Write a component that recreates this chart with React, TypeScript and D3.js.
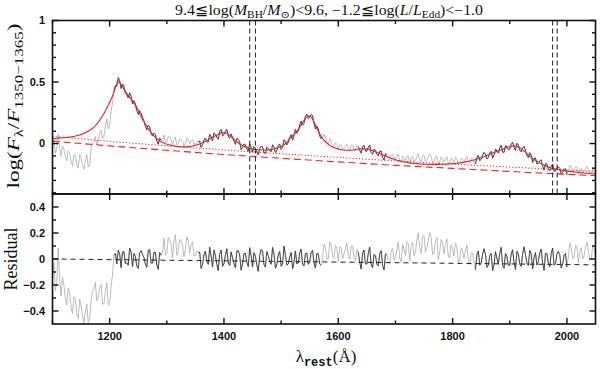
import React from "react";
import * as d3 from "d3";

// ---------- data ----------
const LAMBDA_START = 1100;
const LAMBDA_STEP = 2.5;

// best-fit model, log(F/F_1350-1365), sampled every 2.5 Å from 1100 to 2050
const modelLog = [
  0.040, 0.041, 0.042, 0.043, 0.044, 0.045, 0.046, 0.047, 0.048, 0.049,
  0.050, 0.051, 0.053, 0.054, 0.056, 0.058, 0.061, 0.064, 0.067, 0.070,
  0.074, 0.078, 0.083, 0.088, 0.094, 0.101, 0.108, 0.116, 0.124, 0.134,
  0.145, 0.158, 0.172, 0.188, 0.205, 0.224, 0.244, 0.266, 0.288, 0.311,
  0.335, 0.360, 0.387, 0.418, 0.452, 0.485, 0.508, 0.495, 0.478, 0.461,
  0.443, 0.425, 0.408, 0.392, 0.377, 0.362, 0.347, 0.330, 0.312, 0.292,
  0.270, 0.245, 0.220, 0.198, 0.178, 0.158, 0.140, 0.122, 0.106, 0.090,
  0.076, 0.063, 0.051, 0.040, 0.031, 0.023, 0.016, 0.010, 0.004, -0.001,
  -0.005, -0.009, -0.012, -0.015, -0.018, -0.020, -0.022, -0.024, -0.025, -0.026,
  -0.027, -0.027, -0.027, -0.027, -0.026, -0.025, -0.024, -0.022, -0.020, -0.017,
  -0.014, -0.011, -0.007, -0.003, 0.002, 0.007, 0.012, 0.018, 0.024, 0.030,
  0.037, 0.044, 0.051, 0.058, 0.064, 0.070, 0.076, 0.081, 0.085, 0.088,
  0.089, 0.087, 0.083, 0.075, 0.066, 0.056, 0.045, 0.034, 0.024, 0.015,
  0.006, -0.002, -0.010, -0.016, -0.022, -0.027, -0.031, -0.035, -0.038, -0.041,
  -0.043, -0.045, -0.047, -0.049, -0.050, -0.051, -0.052, -0.053, -0.053, -0.053,
  -0.053, -0.052, -0.051, -0.049, -0.047, -0.044, -0.041, -0.037, -0.033, -0.028,
  -0.023, -0.017, -0.010, 0.000, 0.010, 0.025, 0.040, 0.051, 0.062, 0.075,
  0.088, 0.101, 0.115, 0.132, 0.150, 0.169, 0.188, 0.204, 0.217, 0.223,
  0.224, 0.215, 0.200, 0.176, 0.150, 0.124, 0.100, 0.079, 0.060, 0.043,
  0.028, 0.015, 0.004, -0.006, -0.014, -0.021, -0.028, -0.033, -0.038, -0.042,
  -0.045, -0.048, -0.050, -0.052, -0.053, -0.054, -0.054, -0.054, -0.054, -0.054,
  -0.053, -0.052, -0.050, -0.048, -0.046, -0.044, -0.043, -0.043, -0.043, -0.044,
  -0.045, -0.047, -0.050, -0.053, -0.057, -0.061, -0.066, -0.071, -0.076, -0.081,
  -0.086, -0.091, -0.096, -0.100, -0.105, -0.110, -0.114, -0.119, -0.123, -0.127,
  -0.131, -0.135, -0.138, -0.141, -0.144, -0.147, -0.149, -0.151, -0.153, -0.155,
  -0.157, -0.159, -0.160, -0.161, -0.162, -0.163, -0.164, -0.165, -0.166, -0.167,
  -0.167, -0.168, -0.168, -0.169, -0.169, -0.169, -0.169, -0.169, -0.169, -0.169,
  -0.169, -0.169, -0.168, -0.168, -0.168, -0.168, -0.167, -0.166, -0.165, -0.164,
  -0.163, -0.162, -0.161, -0.160, -0.158, -0.157, -0.155, -0.153, -0.151, -0.149,
  -0.147, -0.145, -0.142, -0.139, -0.136, -0.133, -0.129, -0.126, -0.122, -0.118,
  -0.114, -0.110, -0.105, -0.101, -0.096, -0.092, -0.087, -0.082, -0.077, -0.073,
  -0.068, -0.064, -0.059, -0.055, -0.050, -0.046, -0.041, -0.036, -0.032, -0.028,
  -0.025, -0.022, -0.020, -0.019, -0.020, -0.023, -0.028, -0.035, -0.043, -0.052,
  -0.062, -0.072, -0.082, -0.092, -0.102, -0.111, -0.120, -0.129, -0.137, -0.145,
  -0.152, -0.159, -0.165, -0.171, -0.176, -0.181, -0.186, -0.191, -0.195, -0.199,
  -0.202, -0.205, -0.208, -0.211, -0.213, -0.215, -0.217, -0.219, -0.221, -0.223,
  -0.224, -0.226, -0.227, -0.228, -0.229, -0.231, -0.232, -0.233, -0.234, -0.236,
  -0.237, -0.238, -0.239, -0.240, -0.241, -0.242, -0.243, -0.244, -0.245, -0.246,
  -0.247,
];

// observed composite spectrum, same grid
const specLog = [
  -0.020, 0.030, -0.080, -0.040, 0.080, -0.030, -0.100, -0.020, -0.050, -0.110,
  -0.140, -0.060, -0.080, -0.150, -0.180, -0.090, -0.100, -0.170, -0.200, -0.090,
  -0.120, -0.170, -0.210, -0.140, -0.090, -0.190, -0.160, -0.050, 0.000, 0.020,
  0.060, -0.010, 0.020, 0.080, 0.110, 0.040, 0.060, 0.140, 0.200, 0.120,
  0.150, 0.260, 0.330, 0.430, 0.470, 0.468, 0.536, 0.512, 0.448, 0.484,
  0.467, 0.409, 0.396, 0.371, 0.412, 0.385, 0.321, 0.348, 0.320, 0.268,
  0.237, 0.266, 0.247, 0.212, 0.184, 0.141, 0.111, 0.150, 0.137, 0.076,
  0.062, 0.085, 0.073, 0.019, -0.005, 0.044, 0.028, 0.030, 0.069, 0.011,
  0.012, 0.058, 0.049, 0.031, -0.014, 0.036, 0.053, -0.012, 0.001, 0.035,
  0.030, 0.017, -0.019, 0.004, 0.043, 0.032, -0.004, 0.025, 0.034, -0.006,
  -0.003, 0.015, 0.014, 0.019, -0.031, -0.012, 0.027, 0.044, 0.016, 0.012,
  0.075, 0.053, 0.024, 0.087, 0.076, 0.051, 0.035, 0.097, 0.114, 0.063,
  0.073, 0.099, 0.116, 0.061, 0.044, 0.079, 0.049, 0.018, -0.006, 0.041,
  0.033, 0.011, -0.049, -0.033, -0.004, -0.009, -0.042, -0.061, -0.002, -0.030,
  -0.071, -0.024, -0.038, -0.070, -0.093, -0.040, -0.021, -0.027, -0.072, -0.081,
  -0.029, -0.041, -0.057, -0.067, -0.010, -0.028, -0.073, -0.055, -0.019, -0.003,
  -0.048, -0.034, 0.031, 0.014, -0.011, 0.008, 0.048, 0.072, 0.028, 0.063,
  0.114, 0.084, 0.102, 0.151, 0.182, 0.151, 0.164, 0.222, 0.236, 0.205,
  0.214, 0.236, 0.228, 0.163, 0.119, 0.143, 0.117, 0.062, 0.038, 0.048,
  0.075, 0.052, 0.006, -0.005, 0.039, 0.022, -0.020, -0.031, 0.006, -0.008,
  -0.054, -0.009, -0.015, -0.051, -0.037, -0.021, -0.003, -0.040, -0.055, -0.012,
  -0.013, -0.047, -0.056, -0.016, -0.024, -0.055, -0.078, -0.025, -0.014, -0.061,
  -0.062, -0.028, -0.012, -0.071, -0.087, -0.046, -0.055, -0.089, -0.100, -0.064,
  -0.059, -0.112, -0.134, -0.084, -0.089, -0.118, -0.130, -0.093, -0.089, -0.131,
  -0.127, -0.104, -0.085, -0.139, -0.153, -0.101, -0.116, -0.140, -0.099, -0.105,
  -0.163, -0.118, -0.107, -0.150, -0.139, -0.104, -0.084, -0.129, -0.147, -0.097,
  -0.094, -0.145, -0.132, -0.110, -0.088, -0.103, -0.155, -0.146, -0.114, -0.102,
  -0.171, -0.145, -0.107, -0.118, -0.151, -0.122, -0.105, -0.157, -0.162, -0.119,
  -0.131, -0.152, -0.111, -0.120, -0.172, -0.158, -0.119, -0.126, -0.149, -0.121,
  -0.102, -0.154, -0.162, -0.118, -0.117, -0.146, -0.167, -0.112, -0.096, -0.139,
  -0.128, -0.094, -0.072, -0.086, -0.125, -0.113, -0.076, -0.064, -0.118, -0.092,
  -0.044, -0.061, -0.077, -0.036, -0.013, -0.068, -0.073, -0.018, -0.023, -0.049,
  -0.047, -0.006, 0.010, -0.032, -0.056, 0.002, -0.011, -0.053, -0.068, -0.037,
  -0.023, -0.057, -0.095, -0.114, -0.074, -0.094, -0.154, -0.124, -0.116, -0.166,
  -0.160, -0.139, -0.133, -0.184, -0.216, -0.163, -0.168, -0.206, -0.222, -0.181,
  -0.167, -0.226, -0.223, -0.195, -0.188, -0.201, -0.248, -0.236, -0.209, -0.205,
  -0.252, -0.221, -0.177, -0.190, -0.228, -0.226, -0.188, -0.192, -0.247, -0.213,
  -0.201, -0.238, -0.229, -0.202, -0.187, -0.214, -0.248, -0.243, -0.204, -0.209,
  -0.241,
];

const N = Math.min(modelLog.length, specLog.length);
const wavelengths = d3.range(N).map((i) => LAMBDA_START + i * LAMBDA_STEP);

// fitting windows (drawn dark)
const fitWindows: [number, number][] = [
  [1207, 1290],
  [1355, 1570],
  [1635, 1685],
  [1840, 2000],
];
// continuum windows (vertical dashed lines)
const contWindowEdges = [1445, 1455, 1975, 1983];

// continuum components
const contLambda = [1100, 1200, 1300, 1400, 1500, 1600, 1700, 1800, 1900, 2000, 2050];
const powerLawLog = [0.020, -0.019, -0.055, -0.089, -0.12, -0.149, -0.177, -0.202, -0.227, -0.25, -0.261];
const contTotalLog = [0.058, 0.018, -0.018, -0.052, -0.083, -0.113, -0.141, -0.167, -0.191, -0.215, -0.226];

// reference line in the residual panel
const residRefLambda = [1100, 2050];
const residRefValue = [0, -0.045];

const xMajorTicks = [1200, 1400, 1600, 1800, 2000];
const xMinorTicks = [1100, 1300, 1500, 1700, 1900];
const topMajorTicks = [0, 0.5, 1];
const topTickLabels = ["0", "0.5", "1"];
const topMinorTicks = [-0.4, -0.3, -0.2, -0.1, 0.1, 0.2, 0.3, 0.4, 0.6, 0.7, 0.8, 0.9];
const botMajorTicks = [-0.4, -0.2, 0, 0.2, 0.4];
const botTickLabels = ["\u22120.4", "\u22120.2", "0", "0.2", "0.4"];
const botMinorTicks = [-0.3, -0.1, 0.1, 0.3];

// residual = (F - model)/model, from the two arrays above
const residual = d3.range(N).map((i) => Math.pow(10, specLog[i] - modelLog[i]) - 1);

// ---------- layout ----------
const L = 52.5;
const R = 595.5;
const T1 = 20.5;
const B1 = 194;
const T2 = 194;
const B2 = 324;

const LIGHT = "#b0b0b0";
const DARK = "#363636";
const RED = "#e8202a";
const TICKFONT = "'Liberation Sans', Arial, sans-serif";
const SERIF = "'Liberation Serif', 'DejaVu Serif', serif";

export default function App() {
  const x = d3.scaleLinear().domain([1100, 2050]).range([L, R]);
  const yT = d3.scaleLinear().domain([-0.41, 1]).range([B1, T1]);
  const yB = d3.scaleLinear().domain([-0.5, 0.5]).range([B2, T2]);

  const specPts: [number, number][] = wavelengths.map((w, i) => [w, specLog[i]]);
  const modelPts: [number, number][] = wavelengths.map((w, i) => [w, modelLog[i]]);
  const resPts: [number, number][] = wavelengths.map((w, i) => [w, residual[i]]);

  const lineT = d3
    .line<[number, number]>()
    .x((d) => x(d[0]))
    .y((d) => yT(d[1]));
  const lineB = d3
    .line<[number, number]>()
    .x((d) => x(d[0]))
    .y((d) => yB(d[1]));
  const smoothT = d3
    .line<[number, number]>()
    .x((d) => x(d[0]))
    .y((d) => yT(d[1]))
    .curve(d3.curveMonotoneX);

  const inWin = (w: number, win: [number, number]) => w >= win[0] && w <= win[1];

  const plPts: [number, number][] = contLambda.map((w, i) => [w, powerLawLog[i]]);
  const ctPts: [number, number][] = contLambda.map((w, i) => [w, contTotalLog[i]]);
  const rrPts: [number, number][] = residRefLambda.map((w, i) => [w, residRefValue[i]]);

  const tickLines: JSX.Element[] = [];
  const tk = (x1: number, y1: number, x2: number, y2: number, key: string) =>
    tickLines.push(<line key={key} x1={x1} y1={y1} x2={x2} y2={y2} stroke="#111" strokeWidth={1.4} />);

  const MAJ = 6;
  const MIN = 3.5;
  [...xMajorTicks.map((v) => [v, MAJ]), ...xMinorTicks.map((v) => [v, MIN])].forEach(([v, len], i) => {
    const px = x(v);
    tk(px, T1, px, T1 + len, "xt1" + i);
    tk(px, B1, px, B1 - len, "xb1" + i);
    tk(px, T2, px, T2 + len, "xt2" + i);
    tk(px, B2, px, B2 - len, "xb2" + i);
  });
  [...topMajorTicks.map((v) => [v, MAJ]), ...topMinorTicks.map((v) => [v, MIN])].forEach(([v, len], i) => {
    const py = yT(v);
    tk(L, py, L + len, py, "yl1" + i);
    tk(R, py, R - len, py, "yr1" + i);
  });
  [...botMajorTicks.map((v) => [v, MAJ]), ...botMinorTicks.map((v) => [v, MIN])].forEach(([v, len], i) => {
    const py = yB(v);
    tk(L, py, L + len, py, "yl2" + i);
    tk(R, py, R - len, py, "yr2" + i);
  });

  const SW = 0.85;

  return (
    <svg
      width={600}
      height={369}
      style={{ position: "absolute", left: 0, top: 0, background: "#fff" }}
    >
      <defs>
        <clipPath id="clipTop">
          <rect x={L} y={T1} width={R - L} height={B1 - T1} />
        </clipPath>
        <clipPath id="clipBot">
          <rect x={L} y={T2} width={R - L} height={B2 - T2} />
        </clipPath>
      </defs>
      <rect x={0} y={0} width={600} height={369} fill="#fff" />

      {/* ---- top panel ---- */}
      <g clipPath="url(#clipTop)">
        <path d={lineT(specPts) || ""} fill="none" stroke={LIGHT} strokeWidth={SW} />
        {fitWindows.map((win, i) => (
          <path
            key={"dt" + i}
            d={lineT(specPts.filter((p) => inWin(p[0], win))) || ""}
            fill="none"
            stroke={DARK}
            strokeWidth={SW}
          />
        ))}
        <path d={smoothT(ctPts) || ""} fill="none" stroke={RED} strokeWidth={1} strokeDasharray="1.2,2" />
        <path d={smoothT(plPts) || ""} fill="none" stroke={RED} strokeWidth={1.1} strokeDasharray="7,4" />
        <path d={smoothT(modelPts) || ""} fill="none" stroke={RED} strokeWidth={1.1} />
        {contWindowEdges.map((w, i) => (
          <line
            key={"cw" + i}
            x1={x(w)}
            x2={x(w)}
            y1={T1}
            y2={B1}
            stroke="#222"
            strokeWidth={1}
            strokeDasharray="5,3"
          />
        ))}
      </g>

      {/* ---- bottom panel ---- */}
      <g clipPath="url(#clipBot)">
        <path d={lineB(resPts) || ""} fill="none" stroke={LIGHT} strokeWidth={SW} />
        {fitWindows.map((win, i) => (
          <path
            key={"db" + i}
            d={lineB(resPts.filter((p) => inWin(p[0], win))) || ""}
            fill="none"
            stroke={DARK}
            strokeWidth={SW}
          />
        ))}
        <path d={lineB(rrPts) || ""} fill="none" stroke="#222" strokeWidth={1} strokeDasharray="5,4" />
      </g>

      {/* frames */}
      <rect x={L} y={T1} width={R - L} height={B1 - T1} fill="none" stroke="#111" strokeWidth={1.6} />
      <rect x={L} y={T2} width={R - L} height={B2 - T2} fill="none" stroke="#111" strokeWidth={1.6} />
      {tickLines}

      {/* tick labels */}
      {xMajorTicks.map((v) => (
        <text
          key={"xl" + v}
          x={x(v)}
          y={339.5}
          textAnchor="middle"
          fontFamily={TICKFONT}
          fontWeight="bold"
          fontSize={11}
          fill="#111"
        >
          {v}
        </text>
      ))}
      {topMajorTicks.map((v, i) => (
        <text
          key={"tl" + v}
          x={45}
          y={yT(v)}
          dy="0.35em"
          textAnchor="end"
          fontFamily={TICKFONT}
          fontWeight="bold"
          fontSize={11}
          fill="#111"
        >
          {topTickLabels[i]}
        </text>
      ))}
      {botMajorTicks.map((v, i) => (
        <text
          key={"bl" + v}
          x={45}
          y={yB(v)}
          dy="0.35em"
          textAnchor="end"
          fontFamily={TICKFONT}
          fontWeight="bold"
          fontSize={11}
          fill="#111"
        >
          {botTickLabels[i]}
        </text>
      ))}

      {/* title */}
      <text
        x={175}
        y={14.5}
        textLength={308}
        lengthAdjust="spacingAndGlyphs"
        fontFamily={SERIF}
        fontSize={14}
        fill="#111"
      >
        <tspan>9.4≦log(</tspan>
        <tspan fontStyle="italic">M</tspan>
        <tspan fontSize={10} dy={3}>BH</tspan>
        <tspan dy={-3}>/</tspan>
        <tspan fontStyle="italic">M</tspan>
        <tspan fontSize={10} dy={3}>⊙</tspan>
        <tspan dy={-3}>)&lt;9.6,  −1.2≦log(</tspan>
        <tspan fontStyle="italic">L</tspan>
        <tspan>/</tspan>
        <tspan fontStyle="italic">L</tspan>
        <tspan fontSize={10} dy={3}>Edd</tspan>
        <tspan dy={-3}>)&lt;−1.0</tspan>
      </text>

      {/* y labels */}
      <text
        transform="translate(19,106) rotate(-90)"
        textAnchor="middle"
        fontFamily={SERIF}
        fontSize={17}
        textLength={165}
        lengthAdjust="spacingAndGlyphs"
        fill="#111"
      >
        <tspan>log(</tspan>
        <tspan fontStyle="italic">F</tspan>
        <tspan fontSize={12} dy={4}>λ</tspan>
        <tspan dy={-4}>/</tspan>
        <tspan fontStyle="italic">F</tspan>
        <tspan fontSize={12.5} dy={4}>1350−1365</tspan>
        <tspan dy={-4}>)</tspan>
      </text>
      <text
        transform="translate(17,259) rotate(-90)"
        textAnchor="middle"
        fontFamily={SERIF}
        fontSize={18}
        fill="#111"
      >
        Residual
      </text>

      {/* x label */}
      <text x={326} y={362} textAnchor="middle" fontFamily={SERIF} fontSize={17} fill="#111">
        <tspan>λ</tspan>
        <tspan fontSize={12} dy={4} fontFamily="'Liberation Mono', 'DejaVu Sans Mono', monospace" fontWeight="bold">
          rest
        </tspan>
        <tspan dy={-4}>(Å)</tspan>
      </text>
    </svg>
  );
}
